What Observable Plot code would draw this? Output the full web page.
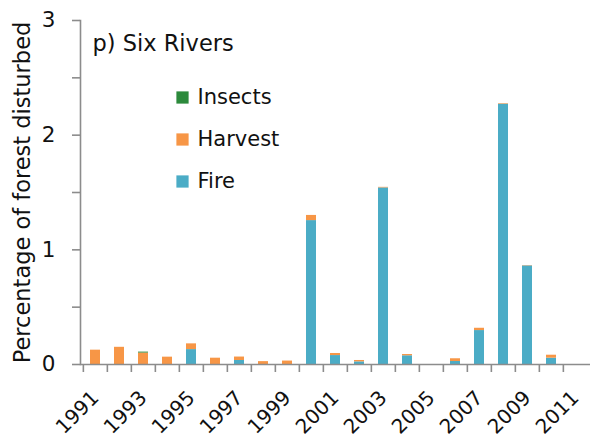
<!DOCTYPE html>
<html>
<head>
<meta charset="utf-8">
<script src="https://cdn.jsdelivr.net/npm/d3@7"></script>
<script src="https://cdn.jsdelivr.net/npm/@observablehq/plot@0.6"></script>
<style>
  html, body { margin: 0; padding: 0; background: #fff; }
</style>
</head>
<body>
<div id="chart"></div>
<script>
const title = "p) Six Rivers";
const yLabel = "Percentage of forest disturbed";
const years = [1991,1992,1993,1994,1995,1996,1997,1998,1999,2000,2001,2002,2003,2004,2005,2006,2007,2008,2009,2010,2011];
const fire    = [0, 0, 0, 0, 0.13, 0, 0.035, 0, 0, 1.255, 0.078, 0.023, 1.54, 0.076, 0, 0.026, 0.296, 2.27, 0.86, 0.055, 0];
const harvest = [0.125, 0.15, 0.10, 0.064, 0.05, 0.055, 0.03, 0.025, 0.03, 0.045, 0.018, 0.012, 0.005, 0.011, 0, 0.024, 0.02, 0.005, 0.003, 0.026, 0];
const insects = [0, 0, 0.008, 0, 0, 0, 0, 0, 0, 0, 0, 0, 0, 0, 0, 0, 0, 0, 0, 0, 0];
const seriesNames = ["Insects", "Harvest", "Fire"];
const seriesColors = ["#2c8a3c", "#f79646", "#4bacc6"];
const xTickLabels = [1991,1993,1995,1997,1999,2001,2003,2005,2007,2009,2011];
const yTicks = [0, 0.5, 1, 1.5, 2, 2.5, 3];

// long table, stacked bottom-to-top: Fire, Harvest, Insects
const stackOrder = ["Fire", "Harvest", "Insects"];
const valuesBy = {Fire: fire, Harvest: harvest, Insects: insects};
const data = [];
stackOrder.forEach(s => years.forEach((y, i) => data.push({year: y, series: s, value: valuesBy[s][i]})));

const W = 590, H = 443, mL = 80, mR = 0, mT = 20, mB = 79;
const step = (W - mL - mR) / years.length;
const axisColor = "#8c8c8c";
const font = "DejaVu Sans";

const legendMarks = seriesNames.flatMap((s, i) => [
  Plot.dot([s], {frameAnchor: "top-left", dx: 102, dy: 77 + 42 * i, symbol: "square", r: 6.9, fill: seriesColors[i], stroke: "none"}),
  Plot.text([s], {frameAnchor: "top-left", dx: 117, dy: 77 + 42 * i, text: d => d, textAnchor: "start", lineAnchor: "middle", fontSize: 21, fill: "#111"})
]);

const chart = Plot.plot({
  width: W, height: H,
  marginLeft: mL, marginRight: mR, marginTop: mT, marginBottom: mB,
  style: {fontFamily: font, fontSize: "21px", color: "#111", background: "#fff"},
  x: {type: "band", domain: years, paddingInner: 0.59, paddingOuter: 0.295, align: 0.5, label: null},
  y: {domain: [0, 3], label: null},
  color: {domain: seriesNames, range: seriesColors},
  marks: [
    Plot.barY(data, {x: "year", y: "value", fill: "series", order: stackOrder}),
    Plot.ruleY([0], {stroke: axisColor, strokeWidth: 1.6}),
    Plot.frame({anchor: "left", stroke: axisColor, strokeWidth: 1.6}),
    Plot.axisY({ticks: yTicks, tickSize: 8, tickPadding: 17, stroke: axisColor, strokeWidth: 1.6, fontSize: 21.5,
      tickFormat: d => Number.isInteger(d) ? String(d) : "", label: null}),
    Plot.text([yLabel], {frameAnchor: "left", dx: -58, rotate: -90, text: d => d, textAnchor: "middle", lineAnchor: "middle", fontSize: 22.5, fill: "#111"}),
    Plot.axisX({ticks: years, tickSize: 8, tickFormat: () => "", dx: -step / 2, stroke: axisColor, strokeWidth: 1.6, label: null}),
    Plot.axisX({ticks: xTickLabels, tickSize: 0, tickPadding: 30, tickRotate: -45, fontSize: 20, tickFormat: d => String(d), label: null}),
    Plot.text([title], {frameAnchor: "top-left", dx: 12, dy: 23, text: d => d, textAnchor: "start", lineAnchor: "middle", fontSize: 22.5, fill: "#111"}),
    ...legendMarks
  ]
});
document.getElementById("chart").appendChild(chart);
</script>
</body>
</html>
